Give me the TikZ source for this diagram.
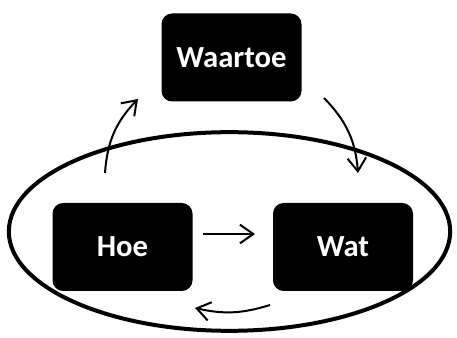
\documentclass[tikz,border=0pt]{standalone}
\usepackage{fontspec}
\setsansfont{Carlito}
\usetikzlibrary{arrows.meta}

\begin{document}
\begin{tikzpicture}[x=0.75pt, y=-0.75pt,
    box/.style={rectangle, rounded corners=8pt, fill=black, text=white,
      minimum width=105pt, minimum height=66pt,
      font=\sffamily\bfseries\fontsize{23}{27}\selectfont},
    arr/.style={-{Straight Barb[length=10pt,width=14pt]}, line width=1.5pt}]
    \useasboundingbox (0,0) rectangle (457,338);

    % Nodes
    \node[box] (waartoe) at (231.5,57.5) {Waartoe};
    \node[box] (hoe) at (122.5,247) {Hoe};
    \node[box] (wat) at (343,247) {Wat};

    % Ellipse round Hoe and Wat
    \draw[line width=3pt] (229.5,231.5) ellipse [x radius=165.5pt, y radius=74.5pt];

    % Arrow ends
    \coordinate (hoeout) at (105,173);
    \coordinate (waartoein) at (138,99);
    \coordinate (waartoeout) at (324,98);
    \coordinate (watin) at (358,173);
    \coordinate (hoeright) at (203,234);
    \coordinate (watleft) at (255,234);
    \coordinate (watout) at (270,305);
    \coordinate (hoein) at (195,308);

    % Edges
    \draw[arr] (hoeout) to[bend left=20] (waartoein);
    \draw[arr] (waartoeout) to[bend left=20] (watin);
    \draw[arr] (hoeright) -- (watleft);
    \draw[arr] (watout) to[bend left=15] (hoein);
\end{tikzpicture}
\end{document}
